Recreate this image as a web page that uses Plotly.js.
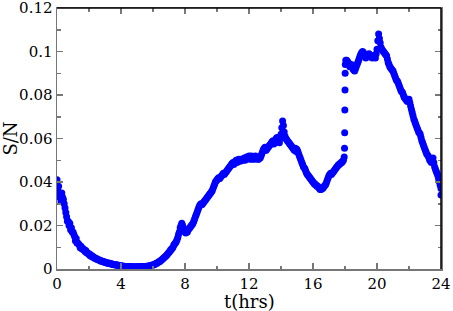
<!DOCTYPE html>
<html>
<head>
<meta charset="utf-8">
<script src="https://cdn.plot.ly/plotly-3.0.1.min.js"></script>
<style>html,body{margin:0;padding:0;background:#fff;}#chart{width:453px;height:311px;}</style>
</head>
<body>
<div id="chart"></div>
<script>
// Time (hours) and signal-to-noise ratio (band centre)
var tHours = [
0.0,0.1,0.2,0.3,0.4,0.5,0.6,0.7,0.8,0.9,
1.0,1.1,1.2,1.3,1.4,1.5,1.6,1.7,1.8,1.9,
2.0,2.1,2.2,2.3,2.4,2.5,2.6,2.7,2.8,2.9,
3.0,3.1,3.2,3.3,3.4,3.5,3.6,3.7,3.8,3.9,
4.0,4.1,4.2,4.3,4.4,4.5,4.6,4.7,4.8,4.9,
5.0,5.1,5.2,5.3,5.4,5.5,5.6,5.7,5.8,5.9,
6.0,6.1,6.2,6.3,6.4,6.5,6.6,6.7,6.8,6.9,
7.0,7.1,7.2,7.3,7.4,7.5,7.6,7.7,7.8,7.9,
8.0,8.1,8.2,8.3,8.4,8.5,8.6,8.7,8.8,8.9,
9.0,9.1,9.2,9.3,9.4,9.5,9.6,9.7,9.8,9.9,
10.0,10.1,10.2,10.3,10.4,10.5,10.6,10.7,10.8,10.9,
11.0,11.1,11.2,11.3,11.4,11.5,11.6,11.7,11.8,11.9,
12.0,12.1,12.2,12.3,12.4,12.5,12.6,12.7,12.8,12.9,
13.0,13.1,13.2,13.3,13.4,13.5,13.6,13.7,13.8,13.9,
14.0,14.1,14.15,14.2,14.3,14.4,14.5,14.6,14.7,14.8,14.9,
15.0,15.1,15.2,15.3,15.4,15.5,15.6,15.7,15.8,15.9,
16.0,16.1,16.2,16.3,16.4,16.5,16.6,16.7,16.8,16.9,
17.0,17.1,17.2,17.3,17.4,17.5,17.6,17.7,17.8,17.9,
17.95,17.97,17.98,17.99,18.0,18.01,18.02,18.05,
18.1,18.2,18.3,18.4,18.5,18.6,18.7,18.8,18.9,
19.0,19.1,19.2,19.3,19.4,19.5,19.6,19.7,19.8,19.9,
20.0,20.1,20.2,20.3,20.4,20.5,20.6,20.7,20.8,20.9,
21.0,21.1,21.2,21.3,21.4,21.5,21.6,21.7,21.8,21.9,
22.0,22.1,22.2,22.3,22.4,22.5,22.6,22.7,22.8,22.9,
23.0,23.1,23.2,23.3,23.4,23.5,23.6,23.7,23.8,23.9,
24.0,24.0
];
var snRatio = [
0.041,0.038,0.034,0.035,0.032,0.028,0.024,0.022,0.021,0.019,
0.017,0.015,0.014,0.012,0.011,0.0105,0.0095,0.009,0.0085,0.0075,
0.007,0.0065,0.006,0.0055,0.005,0.0047,0.0043,0.004,0.0037,0.0034,
0.0032,0.003,0.0028,0.0026,0.0024,0.0022,0.002,0.0019,0.0018,0.0016,
0.0015,0.0014,0.0013,0.0012,0.0012,0.0011,0.0011,0.001,0.001,0.001,
0.001,0.001,0.0011,0.0011,0.0012,0.0012,0.0013,0.0014,0.0015,0.0017,
0.0019,0.0022,0.0026,0.003,0.0035,0.004,0.0046,0.0053,0.006,0.0068,
0.0077,0.0088,0.0095,0.011,0.012,0.0135,0.016,0.019,0.021,0.019,
0.017,0.0175,0.018,0.019,0.020,0.021,0.023,0.025,0.027,0.029,
0.030,0.030,0.031,0.032,0.033,0.034,0.035,0.036,0.038,0.040,
0.041,0.042,0.042,0.043,0.044,0.044,0.045,0.046,0.047,0.048,
0.049,0.049,0.050,0.0495,0.050,0.0505,0.050,0.051,0.0505,0.051,
0.052,0.051,0.0505,0.051,0.052,0.051,0.0505,0.051,0.053,0.055,
0.056,0.055,0.056,0.057,0.058,0.059,0.058,0.060,0.059,0.058,
0.062,0.068,0.066,0.063,0.060,0.059,0.058,0.057,0.056,0.055,0.0555,
0.055,0.053,0.051,0.049,0.047,0.046,0.044,0.043,0.042,0.041,
0.040,0.039,0.0385,0.038,0.037,0.0365,0.037,0.038,0.039,0.041,
0.043,0.044,0.044,0.045,0.046,0.047,0.048,0.0485,0.049,0.050,
0.0515,0.0555,0.0627,0.0731,0.0823,0.090,0.094,0.096,
0.096,0.095,0.093,0.094,0.092,0.091,0.093,0.095,0.097,
0.099,0.100,0.099,0.097,0.098,0.099,0.098,0.097,0.098,0.097,
0.101,0.108,0.104,0.101,0.100,0.099,0.098,0.095,0.093,0.092,
0.091,0.089,0.087,0.086,0.084,0.082,0.081,0.079,0.078,0.077,
0.078,0.075,0.072,0.069,0.067,0.065,0.063,0.062,0.059,0.057,
0.055,0.053,0.052,0.050,0.049,0.051,0.047,0.045,0.043,0.040,
0.037,0.034
];
// In-between samples (spread of the band)
var tHoursB = [
0.05,0.15,0.25,0.35,0.45,0.55,0.65,0.75,0.85,0.95,
1.05,1.15,1.25,1.35,1.45,1.55,1.65,1.75,1.85,1.95,
2.05,2.15,2.25,2.35,2.45,2.55,2.65,2.75,2.85,2.95,
3.05,3.15,3.25,3.35,3.45,3.55,3.65,3.75,3.85,3.95,
4.05,4.15,4.25,4.35,4.45,4.55,4.65,4.75,4.85,4.95,
5.05,5.15,5.25,5.35,5.45,5.55,5.65,5.75,5.85,5.95,
6.05,6.15,6.25,6.35,6.45,6.55,6.65,6.75,6.85,6.95,
7.05,7.15,7.25,7.35,7.45,7.55,7.65,7.75,7.85,7.95,
8.05,8.15,8.25,8.35,8.45,8.55,8.65,8.75,8.85,8.95,
9.05,9.15,9.25,9.35,9.45,9.55,9.65,9.75,9.85,9.95,
10.05,10.15,10.25,10.35,10.45,10.55,10.65,10.75,10.85,10.95,
11.05,11.15,11.25,11.35,11.45,11.55,11.65,11.75,11.85,11.95,
12.05,12.15,12.25,12.35,12.45,12.55,12.65,12.75,12.85,12.95,
13.05,13.15,13.25,13.35,13.45,13.55,13.65,13.75,13.85,13.95,
14.05,14.25,14.35,14.45,14.55,14.65,14.75,14.85,14.95,
15.05,15.15,15.25,15.35,15.45,15.55,15.65,15.75,15.85,15.95,
16.05,16.15,16.25,16.35,16.45,16.55,16.65,16.75,16.85,16.95,
17.05,17.15,17.25,17.35,17.45,17.55,17.65,17.75,17.85,
18.15,18.25,18.35,18.45,18.55,18.65,18.75,18.85,18.95,
19.05,19.15,19.25,19.35,19.45,19.55,19.65,19.75,19.85,19.95,
20.05,20.15,20.25,20.35,20.45,20.55,20.65,20.75,20.85,20.95,
21.05,21.15,21.25,21.35,21.45,21.55,21.65,21.75,21.85,21.95,
22.05,22.15,22.25,22.35,22.45,22.55,22.65,22.75,22.85,22.95,
23.05,23.15,23.25,23.35,23.45,23.55,23.65,23.75,23.85,23.95
];
var snRatioB = [
0.036,0.033,0.031,0.033,0.030,0.026,0.022,0.020,0.018,0.017,
0.016,0.013,0.012,0.0115,0.0098,0.0093,0.0088,0.0080,0.0075,0.0070,
0.0062,0.0058,0.0054,0.0050,0.0046,0.0042,0.0040,0.0036,0.0034,0.0031,
0.0029,0.0027,0.0025,0.0023,0.0022,0.0020,0.0018,0.0017,0.0016,0.0014,
0.0013,0.0012,0.0011,0.0010,0.0010,0.0009,0.0009,0.0008,0.0008,0.0009,
0.0009,0.0009,0.0010,0.0010,0.0011,0.0011,0.0012,0.0013,0.0014,0.0016,
0.0020,0.0023,0.0027,0.0032,0.0036,0.0042,0.0049,0.0056,0.0063,0.0072,
0.0080,0.0090,0.0100,0.0115,0.0125,0.0145,0.017,0.020,0.020,0.018,
0.0165,0.017,0.0185,0.0195,0.0205,0.022,0.024,0.026,0.028,0.0295,
0.0295,0.0305,0.0315,0.0325,0.0335,0.0345,0.0355,0.037,0.039,0.0405,
0.0415,0.0415,0.0425,0.0435,0.0435,0.0445,0.0455,0.0465,0.0475,0.0485,
0.048,0.0495,0.049,0.0505,0.0495,0.050,0.0505,0.050,0.0515,0.0515,
0.0505,0.052,0.0515,0.0505,0.0515,0.0505,0.0515,0.052,0.054,0.0555,
0.0545,0.0555,0.0565,0.0575,0.0585,0.0575,0.059,0.0605,0.0595,0.060,
0.065,0.061,0.0595,0.0585,0.0575,0.0565,0.0555,0.0545,0.054,
0.054,0.052,0.050,0.048,0.0465,0.045,0.0435,0.0425,0.0415,0.0405,
0.0395,0.039,0.038,0.0375,0.0365,0.037,0.0375,0.0385,0.040,0.042,
0.0435,0.0435,0.0445,0.0455,0.0465,0.0475,0.048,0.049,0.0495,
0.0955,0.094,0.0935,0.093,0.0915,0.092,0.094,0.096,0.098,
0.0995,0.0995,0.098,0.0975,0.0985,0.0985,0.0975,0.0975,0.0975,0.099,
0.105,0.106,0.102,0.1005,0.0995,0.0985,0.0965,0.094,0.0925,0.0915,
0.090,0.088,0.0865,0.085,0.083,0.0815,0.080,0.0785,0.0775,0.0775,
0.0765,0.0735,0.0705,0.068,0.066,0.064,0.0625,0.0605,0.058,0.056,
0.054,0.0525,0.051,0.0495,0.050,0.049,0.046,0.044,0.0415,0.0385
];
var xTickVals = [0,4,8,12,16,20,24];
var yTickVals = [0,0.02,0.04,0.06,0.08,0.1,0.12];
var yTickText = ["0","0.02","0.04","0.06","0.08","0.1","0.12"];

var font = "DejaVu Serif";
var dotStyle = {color: "#0000ff", size: 7, line: {width: 0}};
var traces = [
  {x: tHours, y: snRatio, type: "scatter", mode: "markers", marker: dotStyle, hoverinfo: "none", showlegend: false},
  {x: tHoursB, y: snRatioB, type: "scatter", mode: "markers", marker: dotStyle, hoverinfo: "none", showlegend: false}
];
var axisBase = {
  showgrid: false, zeroline: false, showline: true, linecolor: "#777", linewidth: 1.5,
  mirror: "allticks", ticks: "inside", ticklen: 6, tickwidth: 1.5, tickcolor: "#777",
  tickfont: {family: font, size: 15, color: "#000"}, ticklabeloverflow: "allow"
};
var layout = {
  width: 453, height: 311,
  font: {family: font, color: "#000"},
  margin: {l: 57, r: 12, t: 8, b: 42},
  paper_bgcolor: "#fff", plot_bgcolor: "#fff",
  xaxis: Object.assign({}, axisBase, {
    range: [0, 24], tickmode: "array", tickvals: xTickVals,
    minor: {dtick: 2, tick0: 0, ticks: "inside", ticklen: 3.5, tickcolor: "#777", tickwidth: 1.5}
  }),
  yaxis: Object.assign({}, axisBase, {
    range: [0, 0.12], tickmode: "array", tickvals: yTickVals, ticktext: yTickText,
    minor: {dtick: 0.01, tick0: 0, ticks: "inside", ticklen: 3.5, tickcolor: "#777", tickwidth: 1.5},
    title: {text: "S/N", font: {family: font, size: 18, color: "#000"}}
  }),
  annotations: [
    {text: "t(hrs)", xref: "paper", yref: "paper", x: 0.5, y: -0.125, xanchor: "center", yanchor: "middle",
     showarrow: false, font: {family: font, size: 18, color: "#000"}}
  ],
  shapes: [
    {type: "line", xref: "paper", yref: "paper", x0: 0, x1: 1, y0: 1, y1: 1, line: {color: "#000", width: 1.5}},
    {type: "line", xref: "paper", yref: "paper", x0: 1, x1: 1, y0: 0, y1: 1, line: {color: "#000", width: 1.5}}
  ]
};
Plotly.newPlot("chart", traces, layout, {displayModeBar: false, staticPlot: true});
</script>
</body>
</html>
